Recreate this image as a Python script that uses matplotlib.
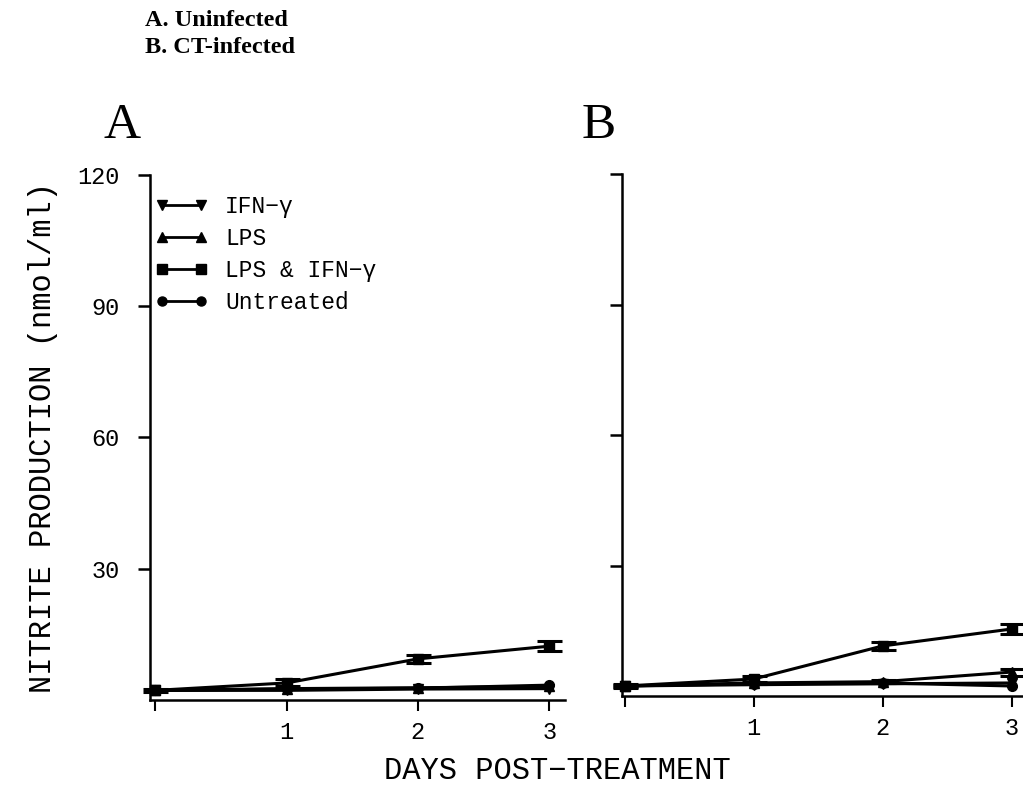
import matplotlib
matplotlib.use("Agg")
import matplotlib.pyplot as plt
from matplotlib.lines import Line2D

# nitrite (nmol/ml) at days 0-3 after treatment
days = [0, 1, 2, 3]
day_labels = ["", "1", "2", "3"]
y_ticks = [30, 60, 90, 120]
series_names = ["IFN\u2212\u03b3", "LPS", "LPS & IFN\u2212\u03b3", "Untreated"]
series_markers = ["v", "^", "s", "o"]

# A: uninfected cells
ifn_a = [2.2, 2.2, 2.5, 2.6]
lps_a = [2.2, 2.6, 2.8, 3.1]
combo_a = [2.2, 3.9, 9.4, 12.3]
untreated_a = [2.2, 2.5, 2.7, 3.4]
combo_err_a = [0.4, 0.8, 1.0, 1.1]

# B: CT-infected cells
ifn_b = [2.3, 2.6, 2.8, 3.0]
lps_b = [2.3, 3.0, 3.3, 5.5]
combo_b = [2.3, 3.9, 11.5, 15.4]
untreated_b = [2.3, 2.8, 3.0, 2.3]
combo_err_b = [0.4, 0.8, 1.0, 1.1]
lps_err_b = [0.3, 0.3, 0.4, 0.8]

MONO = ["Liberation Mono", "DejaVu Sans Mono"]


def draw_panel(ax, values, errs, show_ylabels):
    for name, mk, vals in zip(series_names, series_markers, values):
        err = errs.get(name)
        ax.errorbar(days, vals, yerr=err, color="black", lw=2.2, marker=mk,
                    ms=7, capsize=9, capthick=2.2, elinewidth=2.0,
                    clip_on=False)
    ax.set_ylim(0, 120)
    ax.spines["top"].set_visible(False)
    ax.spines["right"].set_visible(False)
    ax.spines["left"].set_linewidth(1.8)
    ax.spines["bottom"].set_linewidth(1.8)
    ax.set_yticks(y_ticks)
    ax.set_xticks(days)
    ax.set_xticklabels(day_labels, fontfamily=MONO, fontsize=17)
    if show_ylabels:
        ax.set_yticklabels([str(t) for t in y_ticks], fontfamily=MONO, fontsize=17)
    else:
        ax.set_yticklabels([])
    ax.tick_params(axis="y", direction="out", length=9, width=1.8, pad=13)
    ax.tick_params(axis="x", direction="out", length=8, width=1.5, pad=7)


fig = plt.figure(figsize=(10.23, 7.94), dpi=100)

ax_a = fig.add_axes([150 / 1023, 94 / 794, 415 / 1023, 525 / 794])
ax_a.set_xlim(-0.04, 3.12)
draw_panel(ax_a, [ifn_a, lps_a, combo_a, untreated_a],
           {"LPS & IFN\u2212\u03b3": combo_err_a}, True)

handles = [Line2D([], [], color="black", lw=2.0, marker=mk, ms=6.5)
           for mk in series_markers]
ax_a.legend(handles, series_names, loc="upper left",
            bbox_to_anchor=(0.012, 0.962), frameon=False, numpoints=2,
            prop={"family": MONO, "size": 16.5}, handlelength=2.3,
            handletextpad=0.75, labelspacing=0.4, borderpad=0.0,
            borderaxespad=0.0)
ax_a.set_ylabel("NITRITE PRODUCTION (nmol/ml)", fontfamily=MONO, fontsize=22,
                labelpad=14)

ax_b = fig.add_axes([622 / 1023, 98 / 794, 405 / 1023, 522 / 794])
ax_b.set_xlim(-0.02, 3.12)
draw_panel(ax_b, [ifn_b, lps_b, combo_b, untreated_b],
           {"LPS & IFN\u2212\u03b3": combo_err_b, "LPS": lps_err_b}, False)

fig.text(557 / 1023, 1 - 771 / 794, "DAYS POST\u2212TREATMENT", fontfamily=MONO,
         fontsize=22, ha="center", va="center")

fig.text(122 / 1023, 1 - 138 / 794, "A", fontfamily="Liberation Serif",
         fontsize=37, ha="center", va="baseline")
fig.text(599 / 1023, 1 - 138 / 794, "B", fontfamily="Liberation Serif",
         fontsize=37, ha="center", va="baseline")

fig.text(145 / 1023, 1 - 26 / 794, "A. Uninfected", fontfamily="Liberation Serif",
         fontweight="bold", fontsize=17.5, ha="left", va="baseline")
fig.text(145 / 1023, 1 - 53 / 794, "B. CT-infected", fontfamily="Liberation Serif",
         fontweight="bold", fontsize=17.5, ha="left", va="baseline")

fig.savefig("out.png", dpi=100)
